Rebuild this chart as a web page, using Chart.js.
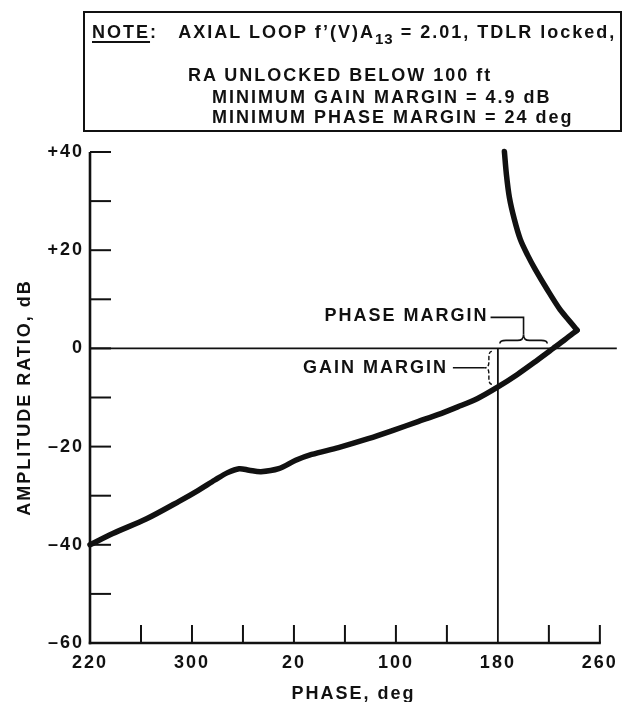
<!DOCTYPE html>
<html>
<head>
<meta charset="utf-8">
<script src="https://cdn.jsdelivr.net/npm/chart.js@4/dist/chart.umd.min.js"></script>
<style>
  html, body { margin: 0; padding: 0; background: #fff; }
  #wrap { position: relative; width: 624px; height: 702px; overflow: hidden; }
  #note {
    position: absolute; left: 83px; top: 11px; width: 539px; height: 121px;
    box-sizing: border-box; border: 2px solid #111;
    font: bold 18px "Liberation Sans", Arial, sans-serif; letter-spacing: 2px; color: #111;
  }
  #note .ln { position: absolute; white-space: nowrap; line-height: 18px; }
  #note u { text-decoration-thickness: 2px; text-underline-offset: 3px; }
  #note .sub { position: relative; top: 6px; font-size: 15px; letter-spacing: 1px; }
</style>
</head>
<body>
<div id="wrap">
  <canvas id="nichols" width="624" height="702"></canvas>
  <div id="note">
    <span class="ln" style="left:7px;top:10px"><u>NOTE</u>:&nbsp;&nbsp; AXIAL LOOP f’(V)A<span class="sub">13</span> = 2.01, TDLR locked,</span>
    <span class="ln" style="left:103px;top:53px">RA UNLOCKED BELOW 100 ft</span>
    <span class="ln" style="left:127px;top:75px">MINIMUM GAIN MARGIN = 4.9 dB</span>
    <span class="ln" style="left:127px;top:95px">MINIMUM PHASE MARGIN = 24 deg</span>
  </div>
</div>
<script>
// Open-loop Nichols locus, axial loop. Phase is unwrapped (deg past 360 continue upward).
// Low-frequency branch: from +40 dB down to the peak.
const lowFreqPhase = [545.1, 546.7, 549.0, 552.9, 557.6, 563.1, 569.3, 578.7, 588.8, 595.8, 602.1];
const lowFreqGain  = [40.1, 35.4, 30.8, 26.3, 22.2, 19.1, 16.1, 12.0, 7.9, 5.7, 3.7];
// High-frequency branch: from the peak down to -40 dB.
const highFreqPhase = [602.1, 592.7, 583.4, 570.9, 555.3, 539.7, 524.1, 508.5, 492.9, 477.3,
                       457.8, 438.3, 414.9, 393.9, 381.4, 368.1, 354.1, 344.8, 337.0,
                       328.0, 318.0, 305.0, 290.2, 264.4, 237.9, 220.0];
const highFreqGain  = [3.7, 1.8, 0.0, -2.4, -5.3, -7.9, -10.2, -11.9, -13.5, -14.9,
                       -16.7, -18.4, -20.2, -21.6, -22.8, -24.5, -25.1, -24.8, -24.5,
                       -25.3, -26.8, -28.9, -31.1, -34.7, -37.7, -40.0];

// Axis ticks
const phaseTicks  = [220, 260, 300, 340, 380, 420, 460, 500, 540, 580, 620];
const phaseLabels = ['220', '', '300', '', '20', '', '100', '', '180', '', '260'];
const gainTicks   = [-60, -50, -40, -30, -20, -10, 0, 10, 20, 30, 40];
const gainLabels  = ['–60', '', '–40', '', '–20', '', '0', '', '+20', '', '+40'];

// Stability reference and margins
const criticalPhase = 540;          // the "180" line
const crossoverPhase = 583.4;       // where the locus crosses 0 dB
const gainAtCritical = -7.9;        // where the locus crosses the 180 line

const INK = '#111';
Chart.defaults.font.family = "'Liberation Sans', Arial, sans-serif";
Chart.defaults.font.size = 18;
Chart.defaults.font.weight = 'bold';
Chart.defaults.color = INK;

function pts(xs, ys) { return xs.map((x, i) => ({ x: x, y: ys[i] })); }

function line(ctx, x1, y1, x2, y2, w) {
  ctx.lineWidth = w;
  ctx.beginPath(); ctx.moveTo(x1, y1); ctx.lineTo(x2, y2); ctx.stroke();
}

const framePlugin = {
  id: 'frame',
  beforeDraw(chart) {
    chart.ctx.letterSpacing = '2px';
  },
  beforeDatasetsDraw(chart) {
    const { ctx, scales: { x, y }, chartArea } = chart;
    ctx.save();
    ctx.strokeStyle = INK;
    ctx.lineCap = 'butt';
    const x0 = x.getPixelForValue(220), x1 = x.getPixelForValue(620);
    const yTop = y.getPixelForValue(40), yBot = y.getPixelForValue(-60);
    const yZero = y.getPixelForValue(0);
    // axis lines
    line(ctx, x0, yTop, x0, yBot + 1.2, 2.6);
    line(ctx, x0 - 1.2, yBot, x1 + 1, yBot, 2.6);
    // inward tick marks on the gain axis
    gainTicks.forEach(v => { if (v > -60) { const py = y.getPixelForValue(v); line(ctx, x0, py, x0 + 21, py, 2); } });
    // inward tick marks on the phase axis
    phaseTicks.forEach(v => { if (v > 220 && v !== criticalPhase) { const px = x.getPixelForValue(v); line(ctx, px, yBot, px, yBot - 18, 2); } });
    // 0 dB line and critical phase line
    line(ctx, x0, yZero, chartArea.right, yZero, 1.6);
    const xc = x.getPixelForValue(criticalPhase);
    line(ctx, xc, yZero, xc, yBot, 1.8);
    ctx.restore();
  },
  afterDatasetsDraw(chart) {
    const { ctx, scales: { x, y } } = chart;
    ctx.save();
    ctx.strokeStyle = INK; ctx.fillStyle = INK;
    ctx.letterSpacing = '2px';
    ctx.font = "bold 18px 'Liberation Sans', Arial, sans-serif";
    ctx.textAlign = 'right'; ctx.textBaseline = 'middle';
    const yZero = y.getPixelForValue(0);
    const xc = x.getPixelForValue(criticalPhase);

    // phase margin brace (horizontal, tip up)
    const pa = xc + 2, pb = x.getPixelForValue(crossoverPhase) - 6;
    const pm = (pa + pb) / 2, yb = yZero - 8, r = 6;
    ctx.lineWidth = 1.6;
    ctx.beginPath();
    ctx.moveTo(pa, yb + 3); ctx.quadraticCurveTo(pa, yb, pa + r, yb); ctx.lineTo(pm - r, yb);
    ctx.quadraticCurveTo(pm, yb, pm, yb - r);
    ctx.moveTo(pb, yb + 3); ctx.quadraticCurveTo(pb, yb, pb - r, yb); ctx.lineTo(pm + r, yb);
    ctx.quadraticCurveTo(pm, yb, pm, yb - r);
    ctx.stroke();
    const yLead = yZero - 31;
    ctx.beginPath(); ctx.moveTo(pm, yb - r); ctx.lineTo(pm, yLead); ctx.lineTo(pm - 33, yLead); ctx.stroke();
    ctx.fillText('PHASE MARGIN', pm - 35, yLead - 1);

    // gain margin brace (vertical, tip left)
    const ga = yZero + 3, gb = y.getPixelForValue(gainAtCritical) - 3;
    const gm = (ga + gb) / 2, xb = xc - 9;
    ctx.lineWidth = 1.4;
    ctx.setLineDash([4, 2]);
    ctx.beginPath();
    ctx.moveTo(xb + 3, ga); ctx.quadraticCurveTo(xb, ga, xb, ga + r); ctx.lineTo(xb, gm - r);
    ctx.quadraticCurveTo(xb, gm, xb - 4, gm);
    ctx.moveTo(xb + 3, gb); ctx.quadraticCurveTo(xb, gb, xb, gb - r); ctx.lineTo(xb, gm + r);
    ctx.quadraticCurveTo(xb, gm, xb - 4, gm);
    ctx.stroke();
    ctx.setLineDash([]);
    line(ctx, xb - 4, gm, xb - 36, gm, 1.6);
    ctx.fillText('GAIN MARGIN', xb - 41, gm);
    ctx.restore();
  }
};

const curveStyle = {
  showLine: true, borderColor: INK, borderWidth: 5.5, pointRadius: 0,
  tension: 0.3, clip: false, borderCapStyle: 'round', borderJoinStyle: 'round'
};

new Chart(document.getElementById('nichols'), {
  type: 'scatter',
  data: {
    datasets: [
      Object.assign({ label: 'low frequency', data: pts(lowFreqPhase, lowFreqGain) }, curveStyle),
      Object.assign({ label: 'high frequency', data: pts(highFreqPhase, highFreqGain) }, curveStyle)
    ]
  },
  options: {
    responsive: false,
    animation: false,
    layout: { padding: { left: 0, top: 152, right: 4, bottom: 0 } },
    plugins: { legend: { display: false }, tooltip: { enabled: false } },
    scales: {
      x: {
        type: 'linear', min: 220, max: 633.3,
        afterBuildTicks: s => { s.ticks = phaseTicks.map(v => ({ value: v })); },
        afterFit: s => { s.height = 59; },
        grid: { display: false, drawTicks: false },
        border: { display: false },
        ticks: { autoSkip: false, maxRotation: 0, padding: 9, callback: (v, i) => phaseLabels[i] },
        title: { display: true, text: 'PHASE, deg', padding: { top: 0, bottom: -3 } }
      },
      y: {
        type: 'linear', min: -60, max: 40,
        afterBuildTicks: s => { s.ticks = gainTicks.map(v => ({ value: v })); },
        afterFit: s => { s.width = 90; },
        grid: { display: false, drawTicks: false },
        border: { display: false },
        ticks: { autoSkip: false, padding: 6, callback: (v, i) => gainLabels[i] },
        title: { display: true, text: 'AMPLITUDE RATIO, dB', padding: { top: 14, bottom: 0 } }
      }
    }
  },
  plugins: [framePlugin]
});
</script>
</body>
</html>
